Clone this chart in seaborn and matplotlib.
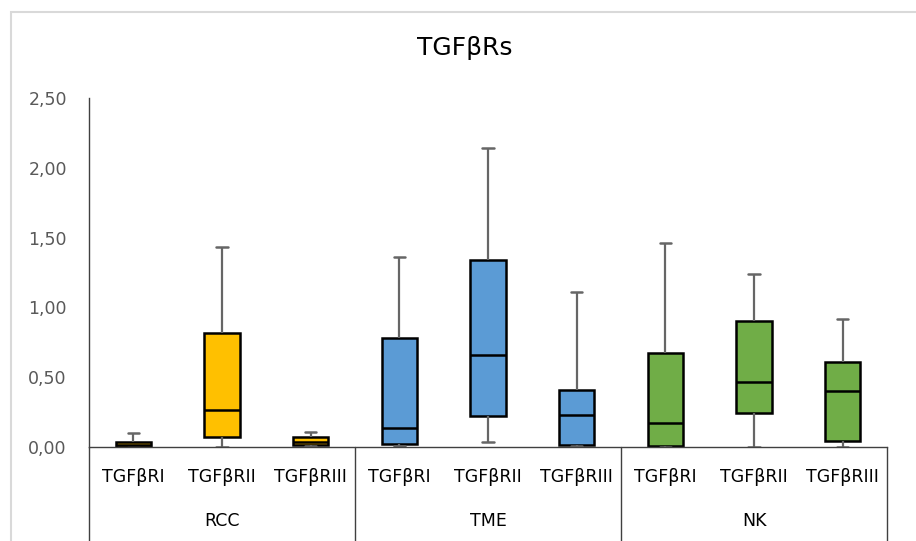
import numpy as np
import pandas as pd
import matplotlib
matplotlib.use("Agg")
import matplotlib.pyplot as plt
import matplotlib.transforms as mtrans
from matplotlib.patches import Rectangle
from matplotlib.ticker import FuncFormatter
import seaborn as sns

# ---- data ----
groups = ["RCC", "TME", "NK"]
receptors = ["TGFβRI", "TGFβRII", "TGFβRIII"]
group_colors = ["#FFC000", "#5B9BD5", "#70AD47"]

# five-number summaries per group, in receptor order
rcc_low = [0.000, 0.000, 0.005]
rcc_q1 = [0.003, 0.070, 0.012]
rcc_med = [0.012, 0.265, 0.036]
rcc_q3 = [0.035, 0.820, 0.075]
rcc_high = [0.100, 1.430, 0.107]

tme_low = [0.005, 0.035, 0.005]
tme_q1 = [0.020, 0.220, 0.013]
tme_med = [0.136, 0.660, 0.230]
tme_q3 = [0.780, 1.340, 0.410]
tme_high = [1.360, 2.140, 1.110]

nk_low = [0.000, 0.000, 0.000]
nk_q1 = [0.007, 0.243, 0.043]
nk_med = [0.170, 0.465, 0.400]
nk_q3 = [0.670, 0.900, 0.610]
nk_high = [1.460, 1.240, 0.915]

yticks = [0.0, 0.5, 1.0, 1.5, 2.0, 2.5]
title = "TGFβRs"

summaries = {
    "RCC": (rcc_low, rcc_q1, rcc_med, rcc_q3, rcc_high),
    "TME": (tme_low, tme_q1, tme_med, tme_q3, tme_high),
    "NK": (nk_low, nk_q1, nk_med, nk_q3, nk_high),
}

rows = []
order = []
for g in groups:
    lo, q1, md, q3, hi = summaries[g]
    for i, r in enumerate(receptors):
        key = f"{g}|{r}"
        order.append(key)
        for v in (lo[i], q1[i], md[i], q3[i], hi[i]):
            rows.append({"cat": key, "group": g, "value": v})
df = pd.DataFrame(rows)

# ---- figure ----
sns.set_theme(style="white")
plt.rcParams["font.family"] = ["DejaVu Sans"]

fig = plt.figure(figsize=(9.16, 5.41), dpi=100)
W, H = 916, 541
ax = fig.add_axes([89 / W, 1 - 447 / H, (887 - 89) / W, (447 - 98) / H])

sns.boxplot(
    data=df, x="cat", y="value", hue="group", order=order, hue_order=groups,
    palette=group_colors, saturation=1, dodge=False, width=0.4,
    whis=(0, 100), showfliers=False, linecolor="black", linewidth=1.8,
    legend=False, ax=ax, capwidths=0.13,
    whiskerprops=dict(color="#666666", linewidth=1.6),
    capprops=dict(color="#666666", linewidth=1.8),
    medianprops=dict(color="black", linewidth=1.8),
)

ax.set_xlim(-0.5, 8.5)
ax.set_ylim(0, 2.5)
ax.set_yticks(yticks)
ax.yaxis.set_major_formatter(FuncFormatter(lambda v, p: f"{v:.2f}".replace(".", ",")))
ax.set_xticks(range(9))
ax.set_xticklabels(receptors * 3)
ax.set_xlabel("")
ax.set_ylabel("")
ax.tick_params(axis="y", length=0, pad=16, labelsize=12.5, labelcolor="#595959")
ax.tick_params(axis="x", length=0, pad=15, labelsize=12.5, labelcolor="black")

for s in ["top", "right"]:
    ax.spines[s].set_visible(False)
for s in ["left", "bottom"]:
    ax.spines[s].set_color("#404040")
    ax.spines[s].set_linewidth(1.0)

trans = mtrans.blended_transform_factory(ax.transData, ax.transAxes)
for xv in [-0.5, 2.5, 5.5, 8.5]:
    ax.plot([xv, xv], [0, -0.3], transform=trans, color="#404040",
            linewidth=1.0, clip_on=False)
for gi, g in enumerate(groups):
    ax.text(gi * 3 + 1, -0.212, g, transform=trans, ha="center", va="center",
            fontsize=12.5, color="black")

fig.text(465 / W, 1 - 48 / H, title, ha="center", va="center",
         fontsize=18, color="black")

fig.patches.append(Rectangle((11 / W, -0.05), 1.2, 1 - 12 / H + 0.05,
                             transform=fig.transFigure, fill=False,
                             edgecolor="#D9D9D9", linewidth=1.5))

fig.savefig("out.png", dpi=100, facecolor="white")
